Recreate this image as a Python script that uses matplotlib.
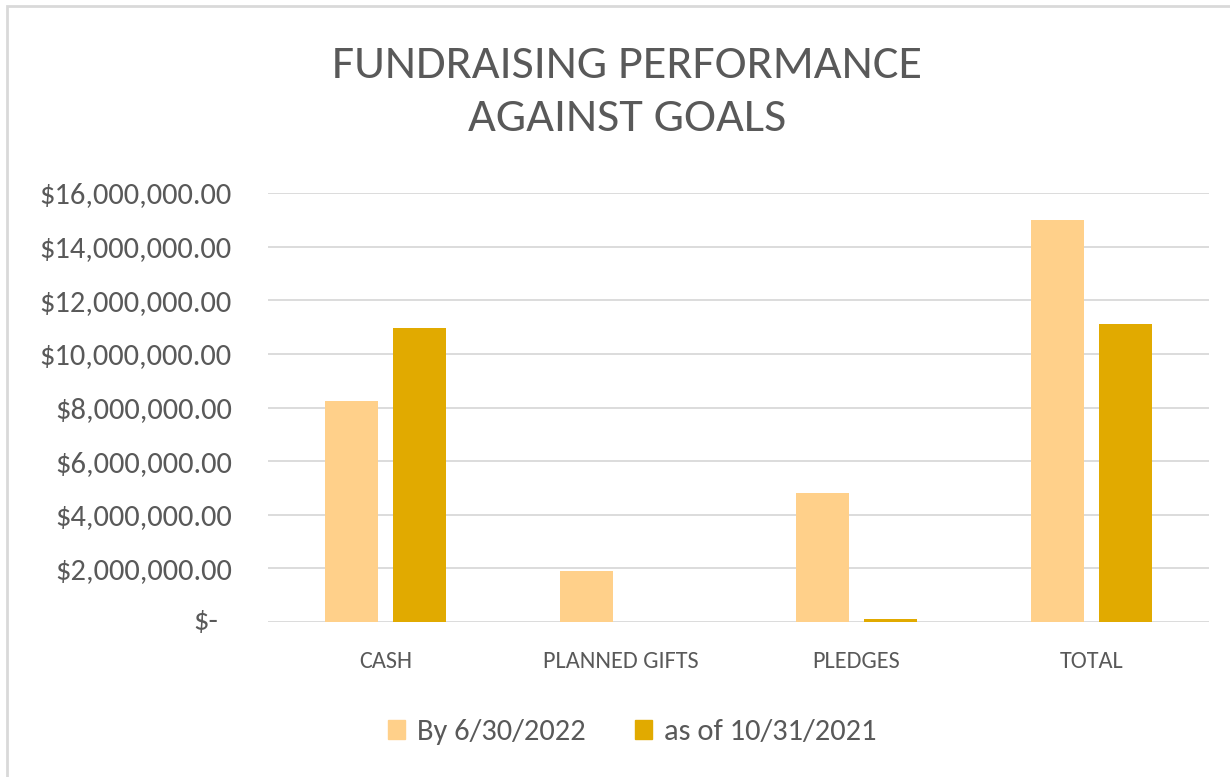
import matplotlib
matplotlib.use("Agg")
import matplotlib.pyplot as plt
from matplotlib.patches import Patch, Rectangle
from matplotlib.ticker import FuncFormatter, MultipleLocator
import numpy as np

plt.rcParams['font.family'] = ['Carlito', 'Lato', 'DejaVu Sans']

categories = ["CASH", "PLANNED GIFTS", "PLEDGES", "TOTAL"]
goal = [8250000, 1910000, 4800000, 15000000]      # By 6/30/2022
actual = [10980000, 0, 100000, 11100000]         # as of 10/31/2021
series_names = ["By 6/30/2022", "as of 10/31/2021"]

light = "#FFD08A"
dark = "#E1AA00"
grey = "#595959"

fig = plt.figure(figsize=(12.3, 7.77), dpi=100)
ax = fig.add_axes([268 / 1230, 1 - 622 / 777, (1209 - 268) / 1230, (622 - 193) / 777])

x = np.arange(len(categories))
w = 0.225
off = 0.1445
ax.bar(x - off, goal, w, color=light, zorder=3)
ax.bar(x + off, actual, w, color=dark, zorder=3)

ax.set_xlim(-0.5, 3.5)
ax.set_ylim(0, 16000000)
ax.yaxis.set_major_locator(MultipleLocator(2000000))


def money(v, pos):
    if v == 0:
        return ""
    return "${:,.2f}".format(v)


ax.yaxis.set_major_formatter(FuncFormatter(money))
ax.annotate("$-", xy=(0, 0), xycoords=("axes fraction", "data"),
            xytext=(-50, 0), textcoords="offset pixels",
            ha="right", va="center", fontsize=22, color=grey)

ax.set_xticks(x)
ax.set_xticklabels(categories)
ax.tick_params(axis="y", length=0, labelsize=22, labelcolor=grey, pad=26)
ax.tick_params(axis="x", length=0, labelsize=17.5, labelcolor=grey, pad=21)

ax.grid(axis="y", color="#D9D9D9", linewidth=1.3, zorder=0)
for s in ax.spines.values():
    s.set_visible(False)

fig.text(627 / 1230, 1 - 92 / 777, "FUNDRAISING PERFORMANCE\nAGAINST GOALS",
         ha="center", va="center", fontsize=34.7, color=grey, linespacing=1.38)

handles = [Patch(color=light), Patch(color=dark)]
fig.legend(handles, series_names, loc="center", bbox_to_anchor=(632 / 1230, 1 - 732 / 777),
           ncol=2, frameon=False, fontsize=22, labelcolor=grey,
           handlelength=0.56, handleheight=0.56, handletextpad=0.4, columnspacing=1.6)

fig.add_artist(Rectangle((7 / 1230, -0.1), 1.2, 1.1 - 6 / 777, transform=fig.transFigure,
                         fill=False, edgecolor="#D9D9D9", linewidth=2))

fig.savefig("out.png", dpi=100)
